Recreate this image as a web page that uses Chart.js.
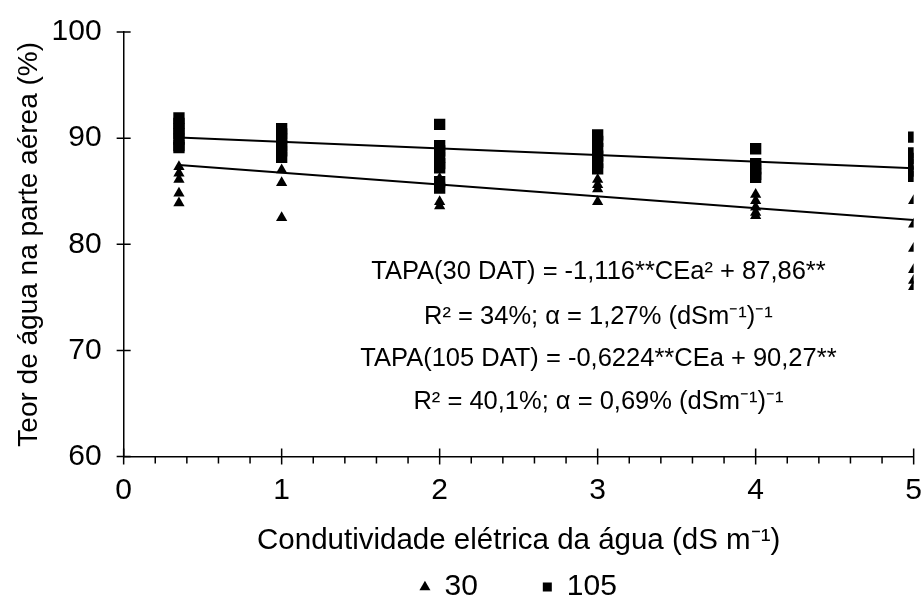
<!DOCTYPE html>
<html><head><meta charset="utf-8">
<script src="https://cdn.jsdelivr.net/npm/chart.js@4"></script>
<style>html,body{margin:0;padding:0;background:#fff}#wrap{width:922px;height:605px;position:relative}</style>
</head><body><div id="wrap"><canvas id="c"></canvas></div>
<script>
const xLevels = [0.35, 1, 2, 3, 4, 5];
const tapa30 = [
  [87.3, 86.7, 86.1, 84.8, 83.9],
  [87.0, 85.8, 82.5],
  [86.2, 85.6, 84.0, 83.6],
  [86.1, 85.6, 85.2, 84.0],
  [84.7, 84.1, 83.5, 83.0, 82.7],
  [84.1, 81.9, 79.6, 77.6, 76.6, 76.0]
];
const tapa105 = [
  [91.9, 91.4, 90.9, 90.4, 89.9, 89.3, 89.1],
  [90.9, 90.4, 89.9, 89.3, 88.8, 88.2],
  [91.3, 89.3, 88.8, 88.2, 87.6, 87.2, 85.9, 85.3],
  [90.3, 89.7, 89.0, 88.3, 87.7, 87.1],
  [89.0, 87.6, 87.1, 86.6, 86.3],
  [90.1, 88.6, 88.1, 87.5, 86.9, 86.4]
];
const fitX = [0.35, 5];
const fit30 = [87.47, 82.28];
const fit105 = [90.05, 87.16];
const xTicks = [0, 1, 2, 3, 4, 5];
const yTicks = [60, 70, 80, 90, 100];
const seriesNames = ['30', '105'];
const annotLines = [
  'TAPA(30 DAT) = -1,116**CEa\u00B2 + 87,86**',
  'R\u00B2 = 34%; \u03B1 = 1,27% (dSm\u207B\u00B9)\u207B\u00B9',
  'TAPA(105 DAT) = -0,6224**CEa + 90,27**',
  'R\u00B2 = 40,1%; \u03B1 = 0,69% (dSm\u207B\u00B9)\u207B\u00B9'
];
const annotY = [77.4, 73.2, 69.2, 65.1];
const annotX = 3.005;

const FONT = '"Liberation Sans", Arial, sans-serif';
function pts(levels, vals) {
  const out = [];
  vals.forEach((arr, i) => arr.forEach(v => out.push({x: levels[i], y: v})));
  return out;
}
function linePts(xs, ys) { return xs.map((x, i) => ({x: x, y: ys[i]})); }

const tickPlugin = {
  id: 'ticksAndText',
  afterDraw(chart) {
    const ctx = chart.ctx;
    const xs = chart.scales.x, ys = chart.scales.y;
    const area = chart.chartArea;
    ctx.save();
    ctx.strokeStyle = '#000';
    ctx.lineWidth = 1.5;
    ctx.beginPath();
    for (let k = 0; k <= 25; k++) {
      const v = k / 5;
      const px = xs.getPixelForValue(v);
      if (k % 5 === 0) { ctx.moveTo(px, area.bottom - 8); ctx.lineTo(px, area.bottom + 8); }
      else { ctx.moveTo(px, area.bottom); ctx.lineTo(px, area.bottom + 7); }
    }
    yTicks.forEach(v => {
      const py = ys.getPixelForValue(v);
      ctx.moveTo(area.left - 7, py); ctx.lineTo(area.left + 7, py);
    });
    ctx.stroke();
    ctx.fillStyle = '#000';
    ctx.font = '25.5px ' + FONT;
    ctx.textAlign = 'center';
    ctx.textBaseline = 'middle';
    annotLines.forEach((t, i) => {
      ctx.fillText(t, xs.getPixelForValue(annotX), ys.getPixelForValue(annotY[i]));
    });
    ctx.restore();
  }
};

const hiddenGrid = {display: true, drawOnChartArea: false, drawTicks: true, color: 'rgba(0,0,0,0)'};

new Chart(document.getElementById('c'), {
  type: 'scatter',
  data: {
    datasets: [
      {label: seriesNames[0], data: pts(xLevels, tapa30), pointStyle: 'triangle', pointRadius: 6.5,
       backgroundColor: '#000', borderColor: '#000', borderWidth: 0, order: 1},
      {label: seriesNames[1], data: pts(xLevels, tapa105), pointStyle: 'rect', pointRadius: 8,
       backgroundColor: '#000', borderColor: '#000', borderWidth: 0, order: 1},
      {label: 'fit30', type: 'line', data: linePts(fitX, fit30), borderColor: '#000', borderWidth: 2,
       pointRadius: 0, fill: false, order: 0},
      {label: 'fit105', type: 'line', data: linePts(fitX, fit105), borderColor: '#000', borderWidth: 2,
       pointRadius: 0, fill: false, order: 0}
    ]
  },
  options: {
    responsive: true,
    maintainAspectRatio: false,
    animation: false,
    layout: {padding: {left: 4, right: 1, top: 2, bottom: -7}},
    plugins: {
      legend: {
        display: true,
        position: 'bottom',
        fullSize: false,
        labels: {
          filter: item => item.datasetIndex < 2,
          usePointStyle: true,
          boxWidth: 9, boxHeight: 9,
          padding: 65,
          color: '#000',
          font: {family: FONT, size: 30, lineHeight: 1}
        }
      },
      tooltip: {enabled: false}
    },
    scales: {
      x: {
        type: 'linear', min: 0, max: 5,
        afterBuildTicks: s => { s.ticks = xTicks.map(v => ({value: v})); },
        grid: Object.assign({}, hiddenGrid, {tickLength: 16}),
        border: {display: true, color: '#000', width: 1.5},
        ticks: {color: '#000', font: {family: FONT, size: 30}, padding: 0, maxRotation: 0},
        title: {display: true, text: 'Condutividade el\u00E9trica da \u00E1gua (dS m\u207B\u00B9)', color: '#000',
                font: {family: FONT, size: 29.5}, padding: {top: 15, bottom: -52}}
      },
      y: {
        type: 'linear', min: 60, max: 100,
        afterBuildTicks: s => { s.ticks = yTicks.map(v => ({value: v})); },
        grid: Object.assign({}, hiddenGrid, {tickLength: 8}),
        border: {display: true, color: '#000', width: 1.5},
        ticks: {color: '#000', font: {family: FONT, size: 30}, padding: 14},
        title: {display: true, text: 'Teor de \u00E1gua na parte a\u00E9rea (%)', color: '#000',
                font: {family: FONT, size: 28}, padding: {top: 8, bottom: -8}}
      }
    }
  },
  plugins: [tickPlugin]
});
</script>
</body></html>
